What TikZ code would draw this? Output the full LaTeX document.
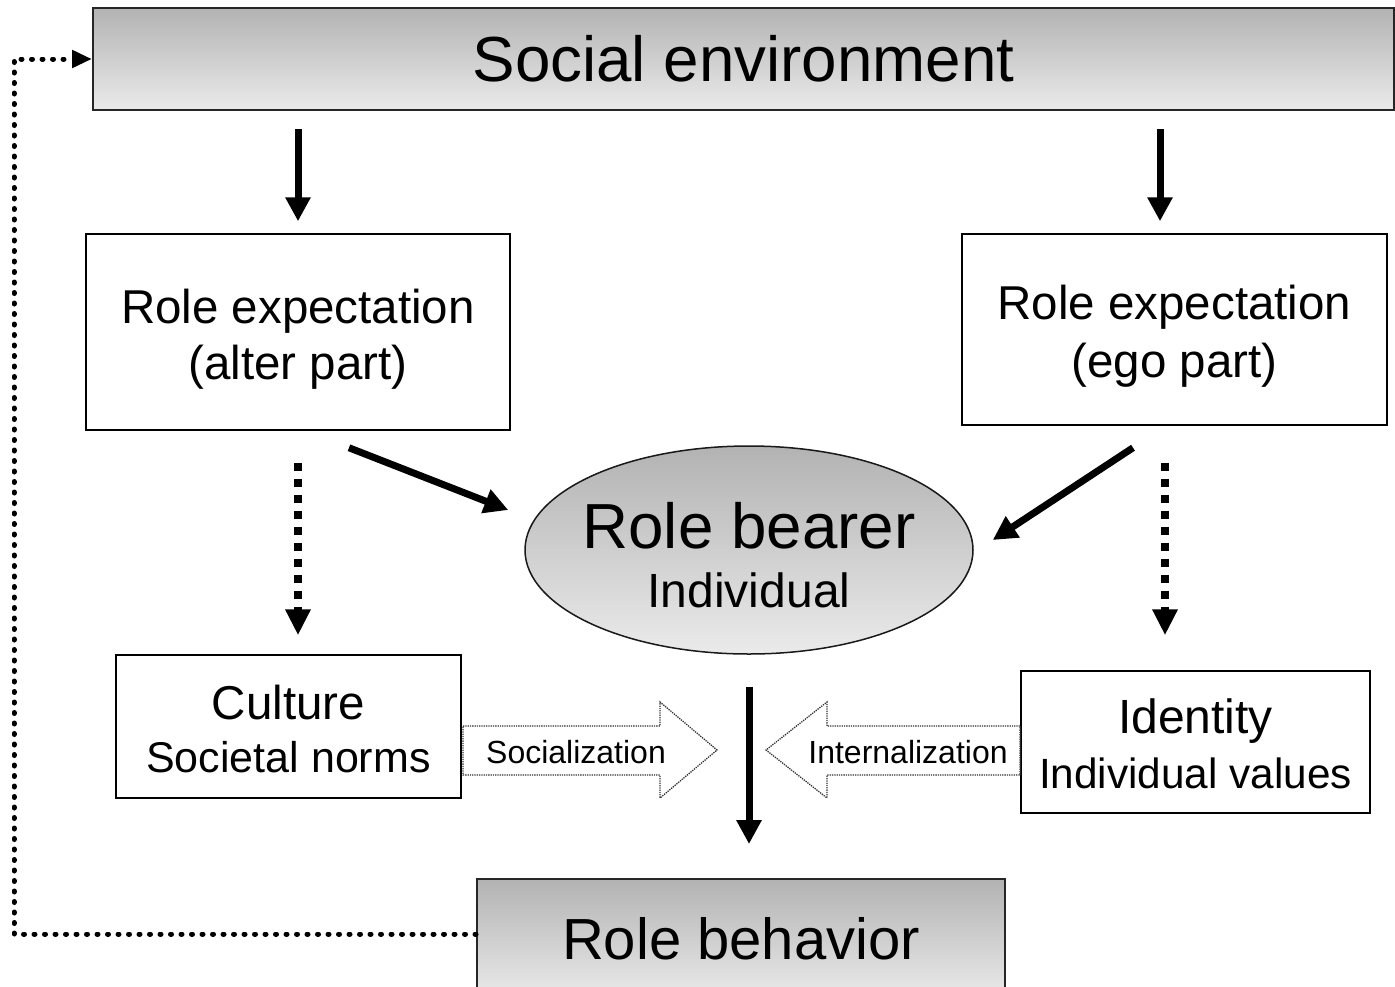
\documentclass[tikz,border=0pt]{standalone}
\usepackage{fontspec}
\setmainfont{Liberation Sans}
\usetikzlibrary{positioning,shapes.geometric,arrows.meta}

\begin{document}
\begin{tikzpicture}[x=1pt,y=-1pt,
  shadebox/.style={draw=black!85,line width=2pt,top color=black!30,bottom color=black!8,inner sep=0pt},
  rolebox/.style={draw=black,line width=1.5pt,fill=white,align=center,inner sep=0pt,text depth=0pt},
  bigarrow/.style={line width=7pt,-{Triangle[length=24pt,width=24pt]}},
  normarrow/.style={line width=8pt,dash pattern=on 8pt off 8pt,-{Triangle[length=26pt,width=24pt]}},
  feedback/.style={line width=5pt,line cap=round,dash pattern=on 1pt off 9.5pt,-{Triangle[length=20pt,width=17pt]}},
  blockarrow/.style={draw=black!80,line width=1.3pt,densely dotted,fill=white}]

\useasboundingbox (0,0) rectangle (1395,986);

\node[draw=black!90,line width=1.5pt,ellipse,top color=black!30,bottom color=black!8,minimum width=448pt,minimum height=208pt,inner xsep=-10pt,inner ysep=0pt,align=center,font=\fontsize{48}{59}\selectfont,text height=114pt,text depth=0pt]
  (bearer) at (749,550) {{\fontsize{63.7}{59}\selectfont Role bearer}\\Individual};

\node[shadebox,minimum width=1301pt,minimum height=102pt,font=\fontsize{63.7}{70}\selectfont]
  (env) [on grid,above=491pt of bearer,xshift=-5.5pt] {Social environment};

\node[rolebox,minimum width=424pt,minimum height=196pt,font=\fontsize{47.5}{56}\selectfont,text height=94pt]
  (alter) [on grid,above left=218pt and 451pt of bearer] {Role expectation\\(alter part)};
\node[rolebox,minimum width=425pt,minimum height=191pt,font=\fontsize{47.5}{58}\selectfont,text height=95pt]
  (ego) [on grid,above right=220.5pt and 425.5pt of bearer] {Role expectation\\(ego part)};

\node[rolebox,minimum width=345pt,minimum height=143pt,font=\fontsize{43}{53}\selectfont,text height=91pt]
  (culture) [on grid,below left=176.5pt and 460.5pt of bearer] {{\fontsize{47.5}{53}\selectfont Culture}\\Societal norms};
\node[rolebox,minimum width=349pt,minimum height=142pt,font=\fontsize{42.3}{55}\selectfont,text height=92pt]
  (identity) [on grid,below right=192pt and 446.5pt of bearer] {{\fontsize{48}{55}\selectfont Identity}\\Individual values};

\node[shadebox,minimum width=528pt,minimum height=120pt,font=\fontsize{58}{64}\selectfont]
  (behavior) [on grid,below=389pt of bearer,xshift=-8pt] {Role behavior};

% socialization / internalization
\draw[blockarrow] (463,726) -- (660,726) -- (660,702) -- (717,750) -- (660,798) -- (660,775) -- (463,775) -- cycle;
\node (soc) at (576,752) [font=\fontsize{32}{36}\selectfont] {Socialization};
\draw[blockarrow] (1020,726) -- (827,726) -- (827,702) -- (766,750) -- (827,798) -- (827,775) -- (1020,775) -- cycle;
\node (intl) at (908,752) [font=\fontsize{32}{36}\selectfont] {Internalization};

\coordinate (egotop) at ([xshift=-14.5pt]ego.north);
\coordinate (egobot) at ([xshift=-9.5pt]ego.south);
\coordinate (fbturn) at (14,59);

\draw[bigarrow,shorten <=18pt,shorten >=12pt] (env.south -| alter.north) -- (alter.north);
\draw[bigarrow,shorten <=18pt,shorten >=12pt] (env.south -| egotop) -- (egotop);

\draw[bigarrow] ([xshift=51pt,yshift=-17pt]alter.south) -- ([xshift=-16pt,yshift=40pt]bearer.west);
\draw[bigarrow] ([xshift=-41.5pt,yshift=-22pt]ego.south) -- ([xshift=19pt,yshift=10pt]bearer.east);

\draw[normarrow,shorten <=32pt,shorten >=19pt] (alter.south) -- (alter.south |- culture.north);
\draw[normarrow,shorten <=37pt,shorten >=35pt] (egobot) -- (egobot |- identity.north);

\draw[bigarrow,shorten <=32pt,shorten >=34pt] (bearer.south) -- (bearer.south |- behavior.north);

\draw[feedback] ([yshift=5pt]behavior.west) -| (fbturn) -- (env.west);

\end{tikzpicture}
\end{document}
